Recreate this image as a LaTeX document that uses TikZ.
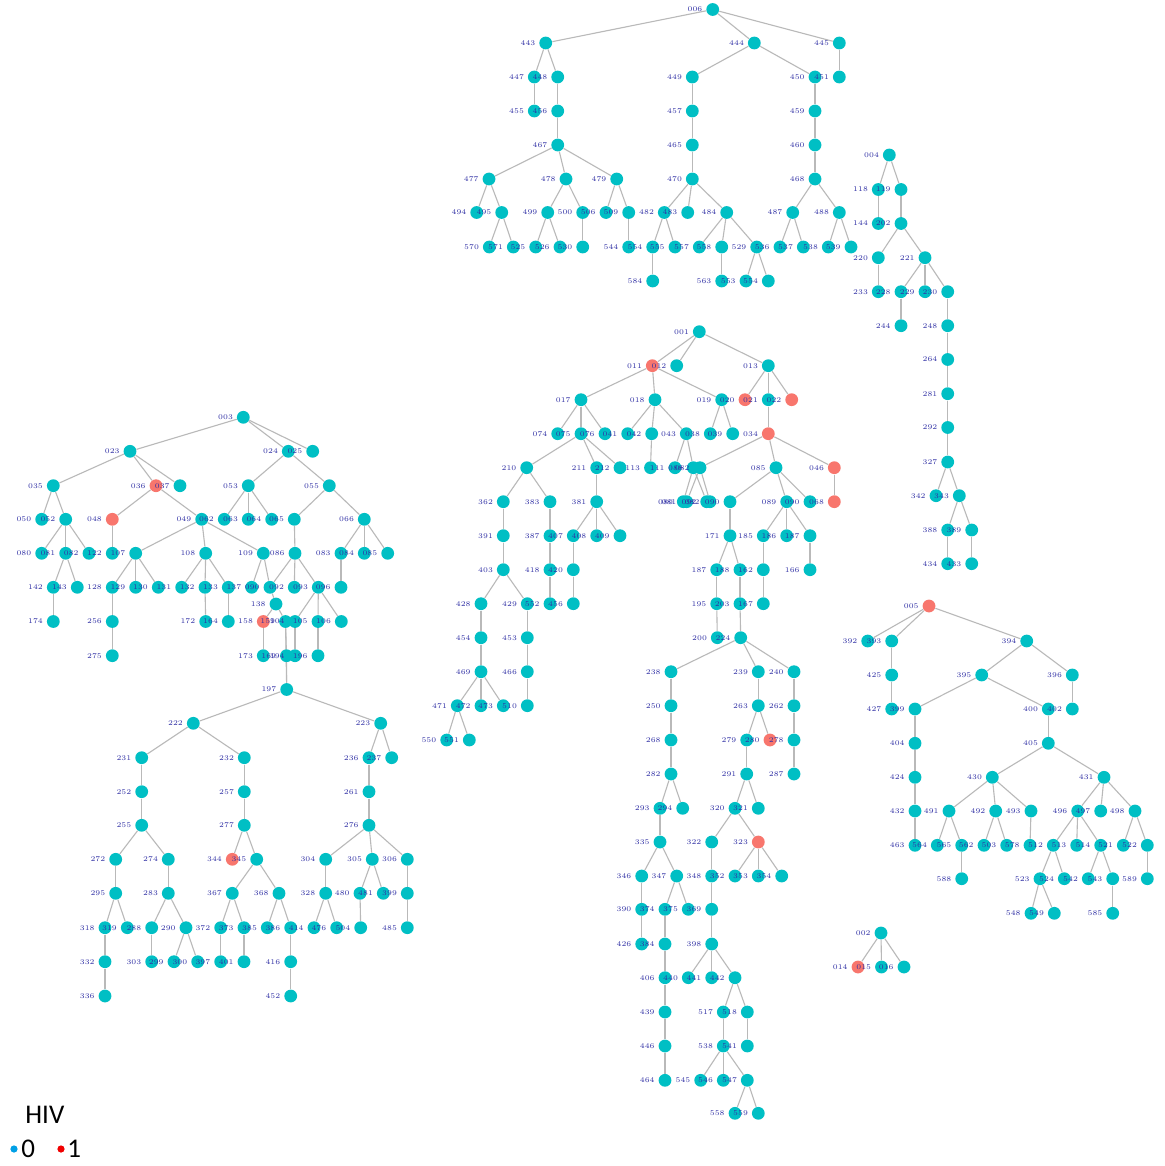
\documentclass[tikz,border=0pt]{standalone}
\usepackage{fontspec}
\newfontfamily\legfont{Carlito}
\definecolor{ncyan}{RGB}{0,191,196}
\definecolor{nred}{RGB}{248,118,109}
\definecolor{egray}{RGB}{185,185,185}
\definecolor{labblue}{RGB}{48,48,165}
\definecolor{legblue}{RGB}{0,160,230}
\definecolor{legred}{RGB}{240,0,0}
\pgfdeclarelayer{edgelayer}
\pgfsetlayers{edgelayer,main}
\tikzset{
  cy/.style={circle,fill=ncyan,draw=none,inner sep=0pt,minimum size=6.4pt},
  rd/.style={circle,fill=nred,draw=none,inner sep=0pt,minimum size=6.4pt},
  lab/.style={anchor=east,inner sep=0pt,font=\fontsize{3.6}{4}\selectfont,text=labblue},
  edge/.style={draw=egray,line width=0.55pt},
  legtext/.style={anchor=base west,inner sep=0pt,font=\legfont\fontsize{13.5}{15}\selectfont}
}
\makeatletter
\newcommand{\mylablist}{}
\newcommand{\Nd}[5]{\node[#5] (#1) at (#2,#3) {};\g@addto@macro\mylablist{\node[lab] at ([xshift=-5pt]#1.center) {#4};}}
\makeatother
\begin{document}
\begin{tikzpicture}[x=0.5pt,y=-0.5pt]
\useasboundingbox (0,0) rectangle (1164,1166);
\begin{pgfonlayer}{edgelayer}\fill[white] (0,0) rectangle (1164,1166);\end{pgfonlayer}
% ---------- top tree ----------
\Nd{a006}{712.7}{9.5}{006}{cy}
\Nd{a443}{545.7}{43}{443}{cy}\Nd{a444}{754.3}{43}{444}{cy}\Nd{a445}{839.3}{43}{445}{cy}
\Nd{a447}{534.3}{77}{447}{cy}\Nd{a448}{557.7}{77}{448}{cy}\Nd{a449}{692.3}{77}{449}{cy}\Nd{a450}{815}{77}{450}{cy}\Nd{a451}{839.3}{77}{451}{cy}
\Nd{a455}{534.3}{111}{455}{cy}\Nd{a456}{557.7}{111}{456}{cy}\Nd{a457}{692.3}{111}{457}{cy}\Nd{a459}{815}{111}{459}{cy}
\Nd{a467}{557.7}{145}{467}{cy}\Nd{a465}{692.3}{145}{465}{cy}\Nd{a460}{815}{145}{460}{cy}
\Nd{a477}{489}{179}{477}{cy}\Nd{a478}{566}{179}{478}{cy}\Nd{a479}{616.7}{179}{479}{cy}\Nd{a470}{692.3}{179}{470}{cy}\Nd{a468}{815}{179}{468}{cy}
\Nd{a494}{476.7}{212.5}{494}{cy}\Nd{a495}{501.7}{212.5}{495}{cy}\Nd{a499}{547.7}{212.5}{499}{cy}\Nd{a500}{582.7}{212.5}{500}{cy}\Nd{a506}{606}{212.5}{506}{cy}\Nd{a509}{628.7}{212.5}{509}{cy}\Nd{a482}{664.3}{212.5}{482}{cy}\Nd{a483}{687.7}{212.5}{483}{cy}\Nd{a484}{726.7}{212.5}{484}{cy}\Nd{a487}{792.7}{212.5}{487}{cy}\Nd{a488}{839.3}{212.5}{488}{cy}
\Nd{a570}{489.3}{247}{570}{cy}\Nd{a571}{513.3}{247}{571}{cy}\Nd{a525}{535.7}{247}{525}{cy}\Nd{a526}{560}{247}{526}{cy}\Nd{a530}{582.7}{247}{530}{cy}\Nd{a544}{628.7}{247}{544}{cy}\Nd{a554}{652.7}{247}{554}{cy}\Nd{a555}{675}{247}{555}{cy}\Nd{a557}{699.3}{247}{557}{cy}\Nd{a558}{721.7}{247}{558}{cy}\Nd{a529}{756.7}{247}{529}{cy}\Nd{a536}{780}{247}{536}{cy}\Nd{a537}{803.3}{247}{537}{cy}\Nd{a538}{828.3}{247}{538}{cy}\Nd{a539}{851}{247}{539}{cy}
\Nd{a584}{652.7}{281}{584}{cy}\Nd{a563}{721.7}{281}{563}{cy}\Nd{a553}{746}{281}{553}{cy}\Nd{a564}{768.3}{281}{554}{cy}
% ---------- right top tree ----------
\Nd{b004}{889.3}{155}{004}{cy}
\Nd{b118}{878.3}{189.5}{118}{cy}\Nd{b119}{901}{189.5}{119}{cy}
\Nd{b144}{878.3}{223.5}{144}{cy}\Nd{b202}{901}{223.5}{202}{cy}
\Nd{b220}{878.3}{257.7}{220}{cy}\Nd{b221}{925}{257.7}{221}{cy}
\Nd{b233}{878.3}{291.7}{233}{cy}\Nd{b228}{901}{291.7}{228}{cy}\Nd{b229}{925}{291.7}{229}{cy}\Nd{b230}{947.7}{291.7}{230}{cy}
\Nd{b244}{901}{325.7}{244}{cy}\Nd{b248}{947.7}{325.7}{248}{cy}
\Nd{b264}{947.7}{359.5}{264}{cy}\Nd{b281}{947.7}{393.7}{281}{cy}\Nd{b292}{947.7}{427.5}{292}{cy}\Nd{b327}{947.7}{462}{327}{cy}
\Nd{b342}{936}{495.7}{342}{cy}\Nd{b343}{959.3}{495.7}{343}{cy}
\Nd{b388}{947.7}{530}{388}{cy}\Nd{b389}{971.7}{530}{389}{cy}
\Nd{b434}{947.7}{563.7}{434}{cy}\Nd{b433}{971.7}{563.7}{433}{cy}
% ---------- left tree ----------
\Nd{c003}{243.3}{417.3}{003}{cy}
\Nd{c023}{130}{451.3}{023}{cy}\Nd{c024}{288.3}{451.3}{024}{cy}\Nd{c025}{312.7}{451.3}{025}{cy}
\Nd{c035}{53.3}{485.7}{035}{cy}\Nd{c036}{156}{485.7}{036}{rd}\Nd{c037}{180}{485.7}{037}{cy}\Nd{c053}{248.3}{485.7}{053}{cy}\Nd{c055}{329.3}{485.7}{055}{cy}
\Nd{c050}{41.7}{519.3}{050}{cy}\Nd{c052}{65.7}{519.3}{052}{cy}\Nd{c048}{112.3}{519.3}{048}{rd}\Nd{c049}{201.7}{519.3}{049}{cy}\Nd{c062}{224.3}{519.3}{062}{cy}\Nd{c063}{248.3}{519.3}{063}{cy}\Nd{c064}{271.7}{519.3}{064}{cy}\Nd{c065}{294.3}{519.3}{065}{cy}\Nd{c066}{364.3}{519.3}{066}{cy}
\Nd{c080}{41.7}{553.3}{080}{cy}\Nd{c081}{65.7}{553.3}{081}{cy}\Nd{c082}{89}{553.3}{082}{cy}\Nd{c122}{112.3}{553.3}{122}{cy}\Nd{c107}{135.7}{553.3}{107}{cy}\Nd{c108}{205.7}{553.3}{108}{cy}\Nd{c109}{263.3}{553.3}{109}{cy}\Nd{c086}{295}{553.3}{086}{cy}\Nd{c083}{341}{553.3}{083}{cy}\Nd{c084}{364.3}{553.3}{084}{cy}\Nd{c085}{387.7}{553.3}{085}{cy}
\Nd{c142}{53.3}{587.3}{142}{cy}\Nd{c143}{77.3}{587.3}{143}{cy}\Nd{c128}{112.3}{587.3}{128}{cy}\Nd{c129}{135.7}{587.3}{129}{cy}\Nd{c130}{158.3}{587.3}{130}{cy}\Nd{c131}{181.7}{587.3}{131}{cy}\Nd{c132}{205}{587.3}{132}{cy}\Nd{c133}{228.3}{587.3}{133}{cy}\Nd{c137}{251.7}{587.3}{137}{cy}\Nd{c090}{270}{587.3}{090}{cy}\Nd{c092}{294.3}{587.3}{092}{cy}\Nd{c093}{318.3}{587.3}{093}{cy}\Nd{c096}{341}{587.3}{096}{cy}
\Nd{c138}{276}{604}{138}{cy}
\Nd{c174}{53.3}{621.5}{174}{cy}\Nd{c256}{112.3}{621.5}{256}{cy}\Nd{c172}{205.7}{621.5}{172}{cy}\Nd{c164}{228.3}{621.5}{164}{cy}\Nd{c158}{263.3}{621.5}{158}{rd}\Nd{c159}{285.5}{621.5}{159}{cy}\Nd{c104}{295}{621.5}{104}{cy}\Nd{c105}{318}{621.5}{105}{cy}\Nd{c106}{341.3}{621.5}{106}{cy}
\Nd{c275}{112.3}{655.7}{275}{cy}\Nd{c173}{263.3}{655.7}{173}{cy}\Nd{c169}{286.5}{655.7}{169}{cy}\Nd{c194}{295}{655.7}{194}{cy}\Nd{c196}{318}{655.7}{196}{cy}
% ---------- 197 subtree ----------
\Nd{d197}{286.7}{689.5}{197}{cy}
\Nd{d222}{193.3}{723.3}{222}{cy}\Nd{d223}{380.7}{723.3}{223}{cy}
\Nd{d231}{141.7}{757.7}{231}{cy}\Nd{d232}{244.3}{757.7}{232}{cy}\Nd{d236}{369}{757.7}{236}{cy}\Nd{d237}{391.7}{757.7}{237}{cy}
\Nd{d252}{141.7}{791.7}{252}{cy}\Nd{d257}{244.3}{791.7}{257}{cy}\Nd{d261}{369}{791.7}{261}{cy}
\Nd{d255}{141.7}{825.3}{255}{cy}\Nd{d277}{244.3}{825.3}{277}{cy}\Nd{d276}{369}{825.3}{276}{cy}
\Nd{d272}{115.7}{859.3}{272}{cy}\Nd{d274}{168.3}{859.3}{274}{cy}\Nd{d344}{232.3}{859.3}{344}{rd}\Nd{d345}{256.7}{859.3}{345}{cy}\Nd{d304}{325.7}{859.3}{304}{cy}\Nd{d305}{372.3}{859.3}{305}{cy}\Nd{d306}{407.3}{859.3}{306}{cy}
\Nd{d295}{115.7}{893.3}{295}{cy}\Nd{d283}{168.3}{893.3}{283}{cy}\Nd{d367}{232.3}{893.3}{367}{cy}\Nd{d368}{279}{893.3}{368}{cy}\Nd{d328}{325.7}{893.3}{328}{cy}\Nd{d480}{360}{893.3}{480}{cy}\Nd{d481}{383.3}{893.3}{481}{cy}\Nd{d399}{407.3}{893.3}{399}{cy}
\Nd{d318}{105}{927.7}{318}{cy}\Nd{d319}{127.3}{927.7}{319}{cy}\Nd{d288}{151.7}{927.7}{288}{cy}\Nd{d290}{186}{927.7}{290}{cy}\Nd{d372}{220.7}{927.7}{372}{cy}\Nd{d373}{244}{927.7}{373}{cy}\Nd{d385}{267.3}{927.7}{385}{cy}\Nd{d386}{290.7}{927.7}{386}{cy}\Nd{d414}{314}{927.7}{414}{cy}\Nd{d476}{336.7}{927.7}{476}{cy}\Nd{d504}{360.7}{927.7}{504}{cy}\Nd{d485}{407.3}{927.7}{485}{cy}
\Nd{d332}{105}{961.7}{332}{cy}\Nd{d303}{151.7}{961.7}{303}{cy}\Nd{d299}{174}{961.7}{299}{cy}\Nd{d300}{197.7}{961.7}{300}{cy}\Nd{d397}{220.7}{961.7}{397}{cy}\Nd{d401}{244}{961.7}{401}{cy}\Nd{d416}{290.7}{961.7}{416}{cy}
\Nd{d336}{105}{996}{336}{cy}\Nd{d452}{290.7}{996}{452}{cy}
% ---------- middle tree ----------
\Nd{e001}{699.3}{331.7}{001}{cy}
\Nd{e011}{652.3}{365.7}{011}{rd}\Nd{e012}{676.7}{365.7}{012}{cy}\Nd{e013}{768.3}{365.7}{013}{cy}
\Nd{e017}{581}{399.7}{017}{cy}\Nd{e018}{655}{399.7}{018}{cy}\Nd{e019}{721.7}{399.7}{019}{cy}\Nd{e020}{745}{399.7}{020}{rd}\Nd{e021}{768.3}{399.7}{021}{cy}\Nd{e022}{791.7}{399.7}{022}{rd}
\Nd{e074}{557.7}{433.7}{074}{cy}\Nd{e075}{581}{433.7}{075}{cy}\Nd{e076}{605}{433.7}{076}{cy}\Nd{e041}{627.7}{433.7}{041}{cy}\Nd{e042}{651.7}{433.7}{042}{cy}\Nd{e043}{686.3}{433.7}{043}{cy}\Nd{e038}{710.3}{433.7}{038}{cy}\Nd{e039}{732.7}{433.7}{039}{cy}\Nd{e034}{768.3}{433.7}{034}{rd}
\Nd{e210}{526.7}{467.7}{210}{cy}\Nd{e211}{596.7}{467.7}{211}{cy}\Nd{e212}{620}{467.7}{212}{cy}\Nd{e113}{650.5}{467.7}{113}{cy}\Nd{e111}{675}{467.7}{111}{cy}\Nd{e088}{693.3}{467.7}{088}{cy}\Nd{e082}{700}{467.7}{082}{cy}\Nd{e085}{776}{467.7}{085}{cy}\Nd{e046}{834.3}{467.7}{046}{rd}
\Nd{e362}{503.3}{501.7}{362}{cy}\Nd{e383}{550}{501.7}{383}{cy}\Nd{e381}{596.7}{501.7}{381}{cy}\Nd{e080}{683.3}{501.7}{080}{cy}\Nd{e081}{686.7}{501.7}{081}{cy}\Nd{e092}{706.7}{501.7}{092}{cy}\Nd{e086}{710}{501.7}{082}{cy}\Nd{e090}{730}{501.7}{090}{cy}\Nd{e089}{786.7}{501.7}{089}{cy}\Nd{e090b}{810}{501.7}{090}{cy}\Nd{e068}{834.3}{501.7}{068}{rd}
\Nd{e391}{503.3}{535.7}{391}{cy}\Nd{e387}{550}{535.7}{387}{cy}\Nd{e407}{573.3}{535.7}{407}{cy}\Nd{e408}{596.7}{535.7}{408}{cy}\Nd{e409}{620}{535.7}{409}{cy}\Nd{e171}{730}{535.7}{171}{cy}\Nd{e185}{763.3}{535.7}{185}{cy}\Nd{e186}{786.7}{535.7}{186}{cy}\Nd{e187}{810}{535.7}{187}{cy}
\Nd{e403}{503.3}{569.7}{403}{cy}\Nd{e418}{550}{569.7}{418}{cy}\Nd{e420}{573.3}{569.7}{420}{cy}\Nd{e187b}{716.7}{569.7}{187}{cy}\Nd{e188}{740}{569.7}{188}{cy}\Nd{e162}{763.3}{569.7}{162}{cy}\Nd{e166}{810}{569.7}{166}{cy}
\Nd{e428}{481}{603.7}{428}{cy}\Nd{e429}{527.3}{603.7}{429}{cy}\Nd{e552}{550}{603.7}{552}{cy}\Nd{e456}{573.3}{603.7}{456}{cy}\Nd{e195}{716.7}{603.7}{195}{cy}\Nd{e203}{740}{603.7}{203}{cy}\Nd{e167}{763.3}{603.7}{167}{cy}
\Nd{e454}{481}{637.7}{454}{cy}\Nd{e453}{527.3}{637.7}{453}{cy}\Nd{e200}{717.3}{637.7}{200}{cy}\Nd{e224}{740.7}{637.7}{224}{cy}
\Nd{e469}{481}{671.7}{469}{cy}\Nd{e466}{527.3}{671.7}{466}{cy}\Nd{e238}{671}{671.7}{238}{cy}\Nd{e239}{758.3}{671.7}{239}{cy}\Nd{e240}{794}{671.7}{240}{cy}
\Nd{e471}{457.3}{705.7}{471}{cy}\Nd{e472}{481}{705.7}{472}{cy}\Nd{e473}{503.3}{705.7}{473}{cy}\Nd{e510}{527.3}{705.7}{510}{cy}\Nd{e250}{671}{705.7}{250}{cy}\Nd{e263}{758.3}{705.7}{263}{cy}\Nd{e262}{794}{705.7}{262}{cy}
\Nd{e550}{446.7}{740}{550}{cy}\Nd{e551}{469.3}{740}{551}{cy}\Nd{e268}{671}{740}{268}{cy}\Nd{e279}{746.7}{740}{279}{cy}\Nd{e280}{770}{740}{280}{rd}\Nd{e278}{794}{740}{278}{cy}
\Nd{e282}{671}{774}{282}{cy}\Nd{e291}{746.7}{774}{291}{cy}\Nd{e287}{794}{774}{287}{cy}
\Nd{e293}{660}{808.3}{293}{cy}\Nd{e294}{682.7}{808.3}{294}{cy}\Nd{e320}{735}{808.3}{320}{cy}\Nd{e321}{758.3}{808.3}{321}{cy}
\Nd{e335}{660}{842}{335}{cy}\Nd{e322}{711.7}{842}{322}{cy}\Nd{e323}{758.3}{842}{323}{rd}
\Nd{e346}{641.7}{876}{346}{cy}\Nd{e347}{676.7}{876}{347}{cy}\Nd{e348}{711.7}{876}{348}{cy}\Nd{e352}{735}{876}{352}{cy}\Nd{e353}{758.3}{876}{353}{cy}\Nd{e354}{781.7}{876}{354}{cy}
\Nd{e390}{641.7}{909.3}{390}{cy}\Nd{e374}{665}{909.3}{374}{cy}\Nd{e375}{688.3}{909.3}{375}{cy}\Nd{e369}{711.7}{909.3}{369}{cy}
\Nd{e426}{641.7}{944}{426}{cy}\Nd{e384}{665}{944}{384}{cy}\Nd{e398}{711.7}{944}{398}{cy}
\Nd{e406}{665}{977.7}{406}{cy}\Nd{e440}{688.3}{977.7}{440}{cy}\Nd{e441}{711.7}{977.7}{441}{cy}\Nd{e442}{735}{977.7}{442}{cy}
\Nd{e439}{665}{1012}{439}{cy}\Nd{e517}{723.3}{1012}{517}{cy}\Nd{e518}{747.3}{1012}{518}{cy}
\Nd{e446}{665}{1046}{446}{cy}\Nd{e538}{723.3}{1046}{538}{cy}\Nd{e541}{747.3}{1046}{541}{cy}
\Nd{e464}{665}{1080.3}{464}{cy}\Nd{e545}{700.7}{1080.3}{545}{cy}\Nd{e546}{723.3}{1080.3}{546}{cy}\Nd{e547}{747.3}{1080.3}{547}{cy}
\Nd{e558}{735}{1113.3}{558}{cy}\Nd{e559}{758.3}{1113.3}{559}{cy}
% ---------- right middle tree ----------
\Nd{f005}{929}{606}{005}{rd}
\Nd{f392}{867.7}{641}{392}{cy}\Nd{f393}{891.7}{641}{393}{cy}\Nd{f394}{1026.7}{641}{394}{cy}
\Nd{f425}{891.7}{675}{425}{cy}\Nd{f395}{981.7}{675}{395}{cy}\Nd{f396}{1072.3}{675}{396}{cy}
\Nd{f427}{891.7}{709}{427}{cy}\Nd{f399}{915}{709}{399}{cy}\Nd{f400}{1048.3}{709}{400}{cy}\Nd{f402}{1072.3}{709}{402}{cy}
\Nd{f404}{915}{743.3}{404}{cy}\Nd{f405}{1048.3}{743.3}{405}{cy}
\Nd{f424}{915}{777.3}{424}{cy}\Nd{f430}{992.3}{777.3}{430}{cy}\Nd{f431}{1104}{777.3}{431}{cy}
\Nd{f432}{915}{811}{432}{cy}\Nd{f491}{949}{811}{491}{cy}\Nd{f492}{995.7}{811}{492}{cy}\Nd{f493}{1031}{811}{493}{cy}\Nd{f496}{1077.7}{811}{496}{cy}\Nd{f497}{1100.7}{811}{497}{cy}\Nd{f498}{1135}{811}{498}{cy}
\Nd{f463}{915}{845.3}{463}{cy}\Nd{f564}{937.3}{845.3}{564}{cy}\Nd{f565}{961.7}{845.3}{565}{cy}\Nd{f562}{984}{845.3}{562}{cy}\Nd{f503}{1006.7}{845.3}{503}{cy}\Nd{f578}{1030}{845.3}{578}{cy}\Nd{f512}{1053.3}{845.3}{512}{cy}\Nd{f513}{1076.7}{845.3}{513}{cy}\Nd{f514}{1100.7}{845.3}{514}{cy}\Nd{f521}{1123.3}{845.3}{521}{cy}\Nd{f522}{1147.3}{845.3}{522}{cy}
\Nd{f588}{961.7}{878.7}{588}{cy}\Nd{f523}{1040}{878.7}{523}{cy}\Nd{f524}{1064.3}{878.7}{524}{cy}\Nd{f542}{1088.3}{878.7}{542}{cy}\Nd{f543}{1112.7}{878.7}{543}{cy}\Nd{f589}{1147.3}{878.7}{589}{cy}
\Nd{f548}{1031}{913.3}{548}{cy}\Nd{f549}{1054.3}{913.3}{549}{cy}\Nd{f585}{1112.7}{913.3}{585}{cy}
% ---------- small tree ----------
\Nd{g002}{881}{933}{002}{cy}
\Nd{g014}{858}{967}{014}{rd}\Nd{g015}{881.5}{967}{015}{cy}\Nd{g016}{904}{967}{016}{cy}
% ---------- labels, drawn over all nodes ----------
\mylablist
% ---------- edges ----------
\begin{pgfonlayer}{edgelayer}
\foreach \a/\b in {a006/a443,a006/a444,a006/a445,a443/a447,a443/a448,a444/a449,a444/a450,a445/a451,a447/a455,a448/a456,a449/a457,a450/a459,a456/a467,a457/a465,a459/a460,a467/a477,a467/a478,a467/a479,a465/a470,a460/a468,a477/a494,a477/a495,a478/a499,a478/a500,a479/a506,a479/a509,a470/a482,a470/a483,a470/a484,a468/a487,a468/a488,a495/a570,a495/a571,a499/a525,a499/a526,a500/a530,a509/a544,a482/a554,a482/a555,a484/a557,a484/a558,a484/a529,a487/a536,a487/a537,a488/a538,a488/a539,a554/a584,a558/a563,a529/a553,a529/a564}
  \draw[edge] (\a) -- (\b);
\foreach \a/\b in {b004/b118,b004/b119,b118/b144,b119/b202,b202/b220,b202/b221,b220/b233,b221/b228,b221/b229,b221/b230,b228/b244,b230/b248,b248/b264,b264/b281,b281/b292,b292/b327,b327/b342,b327/b343,b343/b388,b343/b389,b388/b434,b389/b433}
  \draw[edge] (\a) -- (\b);
\foreach \a/\b in {c003/c023,c003/c024,c003/c025,c023/c035,c023/c036,c023/c037,c024/c053,c024/c055,c035/c050,c035/c052,c036/c048,c036/c049,c053/c062,c053/c063,c053/c064,c055/c065,c055/c066,c052/c080,c052/c081,c052/c082,c048/c122,c049/c107,c049/c108,c049/c109,c065/c086,c066/c083,c066/c084,c066/c085,c081/c142,c081/c143,c107/c128,c107/c129,c107/c130,c108/c131,c108/c132,c108/c133,c109/c137,c109/c090,c086/c090,c086/c092,c086/c093,c083/c096,c142/c174,c128/c256,c132/c172,c133/c164,c090/c138,c138/c158,c138/c159,c093/c104,c093/c105,c093/c106,c256/c275,c158/c173,c159/c169,c104/c194,c105/c196,c169/d197,c159/d197}
  \draw[edge] (\a) -- (\b);
\foreach \a/\b in {d197/d222,d197/d223,d222/d231,d222/d232,d223/d236,d223/d237,d231/d252,d232/d257,d236/d261,d252/d255,d257/d277,d261/d276,d255/d272,d255/d274,d277/d344,d277/d345,d276/d304,d276/d305,d276/d306,d272/d295,d274/d283,d345/d367,d345/d368,d304/d328,d305/d480,d305/d481,d306/d399,d295/d318,d295/d319,d283/d288,d283/d290,d367/d372,d367/d373,d368/d385,d368/d386,d328/d414,d328/d476,d480/d504,d399/d485,d318/d332,d288/d303,d290/d299,d290/d300,d372/d397,d373/d401,d386/d416,d332/d336,d416/d452}
  \draw[edge] (\a) -- (\b);
\foreach \a/\b in {e001/e011,e001/e012,e001/e013,e011/e017,e011/e018,e011/e019,e013/e020,e013/e021,e013/e022,e017/e074,e017/e075,e017/e076,e018/e041,e018/e042,e018/e043,e019/e038,e019/e039,e021/e034,e075/e210,e075/e211,e075/e212,e042/e113,e043/e111,e043/e088,e034/e082,e034/e085,e034/e046,e210/e362,e210/e383,e211/e381,e088/e080,e088/e092,e082/e081,e082/e086,e085/e090,e085/e089,e085/e090b,e046/e068,e362/e391,e383/e387,e381/e407,e381/e408,e381/e409,e090/e171,e089/e185,e089/e186,e089/e187,e391/e403,e387/e418,e407/e420,e171/e187b,e171/e188,e185/e162,e187/e166,e403/e428,e403/e429,e418/e552,e420/e456,e187b/e195,e188/e203,e162/e167,e428/e454,e429/e453,e195/e200,e203/e224,e454/e469,e453/e466,e224/e238,e224/e239,e224/e240,e469/e471,e469/e472,e469/e473,e466/e510,e238/e250,e239/e263,e240/e262,e471/e550,e471/e551,e250/e268,e263/e279,e263/e280,e262/e278,e268/e282,e279/e291,e278/e287,e282/e293,e282/e294,e291/e320,e291/e321,e293/e335,e320/e322,e320/e323,e335/e346,e335/e347,e322/e348,e323/e352,e323/e353,e323/e354,e346/e390,e347/e374,e347/e375,e348/e369,e390/e426,e374/e384,e369/e398,e384/e406,e398/e440,e398/e441,e398/e442,e406/e439,e442/e517,e442/e518,e439/e446,e517/e538,e518/e541,e446/e464,e538/e545,e538/e546,e538/e547,e547/e558,e547/e559}
  \draw[edge] (\a) -- (\b);
\foreach \a/\b in {f005/f392,f005/f393,f005/f394,f393/f425,f394/f395,f394/f396,f425/f427,f395/f399,f395/f400,f396/f402,f399/f404,f400/f405,f404/f424,f405/f430,f405/f431,f424/f432,f430/f491,f430/f492,f430/f493,f431/f496,f431/f497,f431/f498,f432/f463,f491/f564,f491/f565,f492/f562,f492/f503,f493/f578,f496/f512,f496/f513,f496/f514,f498/f521,f498/f522,f565/f588,f512/f523,f512/f524,f514/f542,f514/f543,f522/f589,f523/f548,f523/f549,f543/f585}
  \draw[edge] (\a) -- (\b);
\foreach \a/\b in {g002/g014,g002/g015,g002/g016}
  \draw[edge] (\a) -- (\b);
\end{pgfonlayer}
% ---------- legend ----------
\node[legtext] (hiv) at (25,1123) {HIV};
\node[circle,fill=legblue,inner sep=0pt,minimum size=3.6pt] (l0dot) at (14,1149) {};
\node[legtext] (l0txt) at (21,1157) {0};
\node[circle,fill=legred,inner sep=0pt,minimum size=3.6pt] (l1dot) at (61,1149) {};
\node[legtext] (l1txt) at (67,1157) {1};
\end{tikzpicture}
\end{document}
